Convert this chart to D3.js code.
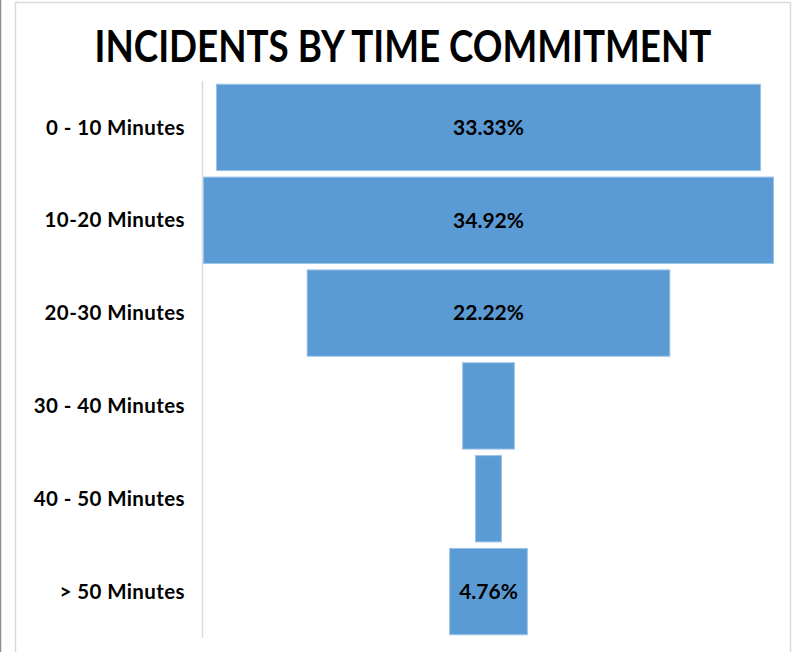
<!DOCTYPE html>
<html>
<head>
<meta charset="utf-8">
<script src="https://cdn.jsdelivr.net/npm/d3@7"></script>
<style>
  body { margin: 0; background: #fff; }
  text { font-family: Lato, "Open Sans", sans-serif; font-weight: bold; fill: #000; }
</style>
</head>
<body>
<svg id="chart"></svg>
<script>
// datos
const categories = ["0 - 10 Minutes", "10-20 Minutes", "20-30 Minutes", "30 - 40 Minutes", "40 - 50 Minutes", "> 50 Minutes"];
const values = [33.33, 34.92, 22.22, 3.17, 1.59, 4.76];
const title = "INCIDENTS BY TIME COMMITMENT";

const width = 795;
const height = 652;

const svg = d3.select("#chart")
    .attr("width", width)
    .attr("height", height);

// marcos
svg.append("line")
    .attr("x1", 0.5).attr("x2", 0.5)
    .attr("y1", 0).attr("y2", height)
    .attr("stroke", "#8c8c8c").attr("stroke-width", 1.5);

svg.append("rect")
    .attr("x", 15.5).attr("y", 2.5)
    .attr("width", 775).attr("height", height + 10)
    .attr("fill", "#fff")
    .attr("stroke", "#d9d9d9").attr("stroke-width", 1.5);

// titulo (comprimido en horizontal para parecerse a Calibri)
const titleG = svg.append("g");
const titleText = titleG.append("text")
    .attr("x", 0)
    .attr("y", 0)
    .attr("text-anchor", "middle")
    .attr("font-size", 44)
    .text(title);
const tw = titleText.node().getComputedTextLength();
titleG.attr("transform", `translate(403, 62) scale(${617 / tw}, 1)`);

// escalas
const maxV = d3.max(values);
const xScale = d3.scaleLinear()
    .domain([-maxV / 2, maxV / 2])
    .range([203.5, 773.5]);

const yScale = d3.scaleBand()
    .domain(categories)
    .range([81, 638])
    .paddingInner(0.07)
    .paddingOuter(0.035);

// eje vertical
svg.append("line")
    .attr("x1", 202.5).attr("x2", 202.5)
    .attr("y1", 81).attr("y2", 638)
    .attr("stroke", "#d9d9d9").attr("stroke-width", 1.5);

// etiquetas de categoria
svg.selectAll(".cat")
    .data(categories)
    .enter()
    .append("text")
    .attr("class", "cat")
    .attr("x", 185)
    .attr("y", d => yScale(d) + yScale.bandwidth() / 2)
    .attr("dy", "0.35em")
    .attr("text-anchor", "end")
    .attr("font-size", 20.5)
    .attr("letter-spacing", 0.4)
    .text(d => d);

// barras
const data = categories.map((c, i) => ({ cat: c, value: values[i] }));

svg.selectAll(".bar")
    .data(data)
    .enter()
    .append("rect")
    .attr("class", "bar")
    .attr("x", d => xScale(-d.value / 2))
    .attr("y", d => yScale(d.cat))
    .attr("width", d => xScale(d.value / 2) - xScale(-d.value / 2))
    .attr("height", yScale.bandwidth())
    .attr("fill", "#5b9bd5")
    .attr("stroke", "#9dc3e6")
    .attr("stroke-width", 1);

// etiquetas de valor (solo si caben)
svg.selectAll(".val")
    .data(data)
    .enter()
    .append("text")
    .attr("class", "val")
    .attr("x", xScale(0))
    .attr("y", d => yScale(d.cat) + yScale.bandwidth() / 2)
    .attr("dy", "0.35em")
    .attr("text-anchor", "middle")
    .attr("font-size", 21)
    .text(d => d.value.toFixed(2) + "%")
    .each(function(d) {
        const w = xScale(d.value / 2) - xScale(-d.value / 2);
        if (this.getComputedTextLength() > w - 6) d3.select(this).remove();
    });
</script>
</body>
</html>
